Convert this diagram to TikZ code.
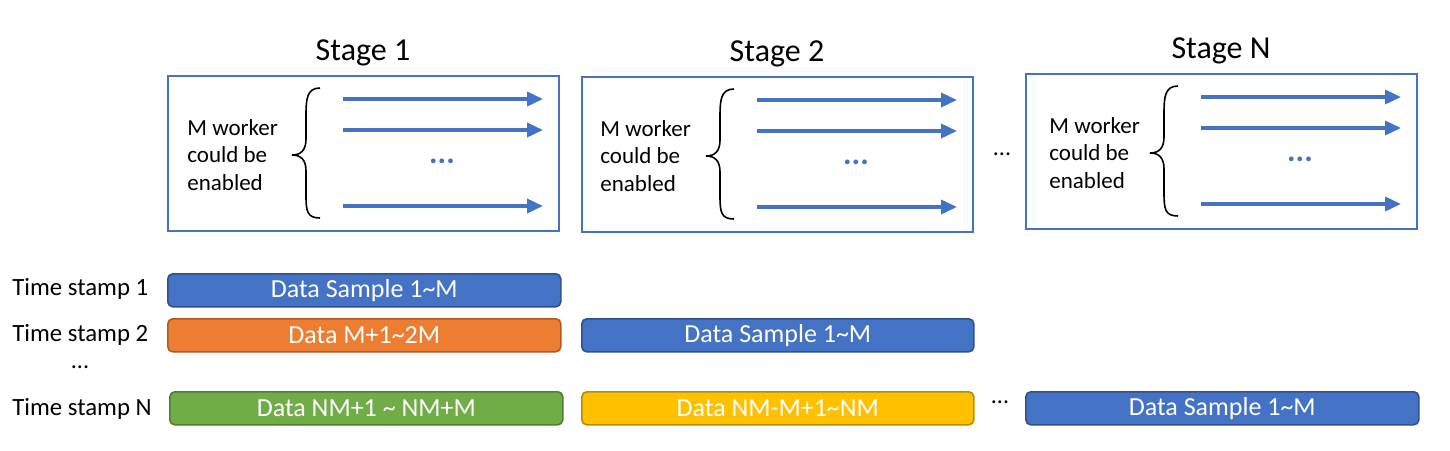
\documentclass[tikz,border=0pt]{standalone}
\usepackage{fontspec}
\setmainfont{Carlito}
\usepackage{xcolor}
\usetikzlibrary{arrows.meta, positioning}

\definecolor{ofblue}{HTML}{4472C4}
\definecolor{ofbluedk}{HTML}{2F528F}
\definecolor{oforange}{HTML}{ED7D31}
\definecolor{oforangedk}{HTML}{AE5A21}
\definecolor{ofgreen}{HTML}{70AD47}
\definecolor{ofgreendk}{HTML}{507E32}
\definecolor{ofyellow}{HTML}{FFC000}
\definecolor{ofyellowdk}{HTML}{BC8C00}

\tikzset{
  stagebox/.style={draw=ofblue, line width=1pt, minimum width=195.5pt,
    minimum height=77.5pt, anchor=north west, inner sep=0pt},
  stagetitle/.style={font=\fontsize{16}{19}\selectfont, inner sep=0pt},
  workertext/.style={anchor=west, align=left, inner sep=0pt,
    font=\fontsize{11.5}{13.6}\selectfont},
  worker/.style={-{Triangle[length=8pt,width=7pt]}, ofblue, line width=1.8pt},
  bluedots/.style={text=ofblue, font=\fontsize{16}{18}\selectfont\bfseries, inner sep=0pt},
  databar/.style={rounded corners=2.5pt, line width=0.8pt, text=white,
    minimum height=16.5pt, anchor=north west, inner sep=0pt,
    font=\fontsize{13}{15}\selectfont},
  tslabel/.style={anchor=west, inner sep=0pt, font=\fontsize{12.4}{14}\selectfont},
  gapdots/.style={inner sep=0pt, font=\fontsize{12}{14}\selectfont},
}

\begin{document}
\begin{tikzpicture}[x=0.5pt, y=-0.5pt]
  \path[fill=white, use as bounding box] (0,0) rectangle (1450,450);

  % stages
  \foreach \n/\x/\y/\t/\d in {s1/167/75/1/20, s2/581/76/2/19, sN/1025/73/N/24} {
    \node[stagebox] (\n) at (\x,\y) {};
    \node[stagetitle] (\n t) at (\x+196,\y-22) {Stage \t};
    \node[workertext] (\n w) at (\x+\d,\y+80) {M worker\\could be\\enabled};
    \begin{scope}[shift={(\x,\y)}]
      \draw[black, line width=0.8pt] (153,13) .. controls (140,13) and (139,24) .. (139,40)
        -- (139,64) .. controls (139,75) and (134,80) .. (125,80)
        .. controls (134,80) and (139,85) .. (139,96)
        -- (139,120) .. controls (139,136) and (140,143) .. (153,143);
      \foreach \k/\ay in {1/24, 2/55, 3/131} {
        \coordinate (\n a\k) at (176,\ay);
        \coordinate (\n b\k) at (376,\ay);
        \draw[worker] (\n a\k) -- (\n b\k);
      }
      \node[bluedots] (\n d) at (275,86) {...};
    \end{scope}
  }
  \node[gapdots] (sdots) at (1002,154) {...};

  % time stamps
  \node[tslabel] (ts1) at (12,289) {Time stamp 1};
  \node[tslabel] (ts2) at (12,335) {Time stamp 2};
  \node[gapdots] (tsdots) at (80,367) {...};
  \node[tslabel] (tsN) at (12,409) {Time stamp N};

  \node[databar, fill=ofblue, draw=ofbluedk, minimum width=196.5pt]
    (r1c1) at (167,273) {Data Sample 1\textasciitilde M};
  \node[databar, fill=oforange, draw=oforangedk, minimum width=196.5pt]
    (r2c1) at (167,318) {Data M+1\textasciitilde 2M};
  \node[databar, fill=ofblue, draw=ofbluedk, minimum width=196pt]
    (r2c2) at (581,318) {Data Sample 1\textasciitilde M};
  \node[databar, fill=ofgreen, draw=ofgreendk, minimum width=196.5pt]
    (r3c1) at (169,391) {Data NM+1 \textasciitilde{} NM+M};
  \node[databar, fill=ofyellow, draw=ofyellowdk, minimum width=196pt]
    (r3c2) at (581,391) {Data NM-M+1\textasciitilde NM};
  \node[gapdots] (rdots) at (1000,402) {...};
  \node[databar, fill=ofblue, draw=ofbluedk, minimum width=196.5pt]
    (r3c3) at (1025,391) {Data Sample 1\textasciitilde M};
\end{tikzpicture}
\end{document}
